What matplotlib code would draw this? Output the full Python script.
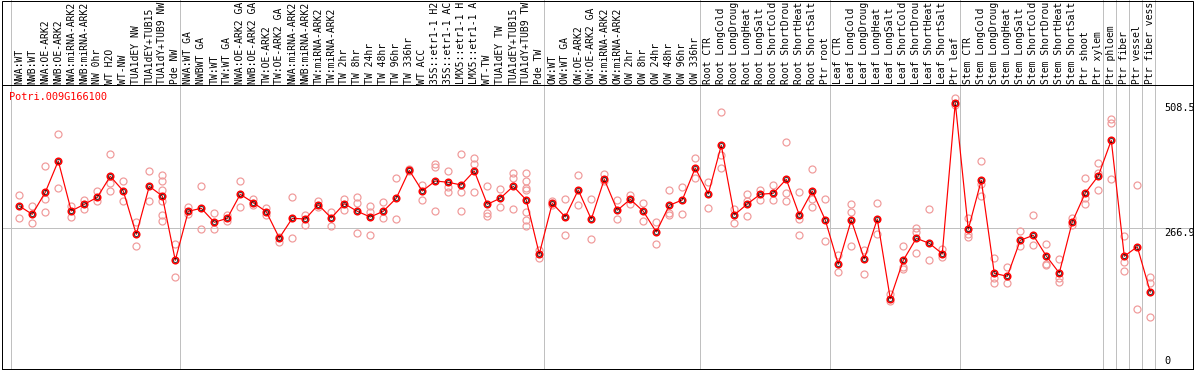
import matplotlib
matplotlib.use("Agg")
import matplotlib.pyplot as plt
from matplotlib.patches import Rectangle

# Sample names, left to right (as far as the header shows them)
samples = [
    "NWA:WT", "NWB:WT", "NWA:OE-ARK2", "NWB:OE-ARK2", "NWA:miRNA-ARK2", "NWB:miRNA-ARK2",
    "NW 0hr", "WT H2O", "WT-NW", "TUA1dEY NW", "TUA1dEY+TUB15", "TUA1dY+TUB9 NW", "Pde NW",
    "NWA:WT GA", "NWBWT GA", "TW:WT", "TW:WT GA", "NWA:OE-ARK2 GA", "NWB:OE-ARK2 GA",
    "TW:OE-ARK2", "TW:OE-ARK2 GA", "NWA:miRNA-ARK2", "NWB:miRNA-ARK2", "TW:miRNA-ARK2",
    "TW:miRNA-ARK2", "TW 2hr", "TW 8hr", "TW 24hr", "TW 48hr", "TW 96hr", "TW 336hr", "WT ACC",
    "35S::etr1-1 H2", "35S::etr1-1 AC", "LMX5::etr1-1 H", "LMX5::etr1-1 A", "WT-TW",
    "TUA1dEY TW", "TUA1dEY+TUB15", "TUA1dY+TUB9 TW", "Pde TW",
    "OW:WT", "OW:WT GA", "OW:OE-ARK2", "OW:OE-ARK2 GA", "OW:miRNA-ARK2", "OW:miRNA-ARK2",
    "OW 2hr", "OW 8hr", "OW 24hr", "OW 48hr", "OW 96hr", "OW 336hr",
    "Root CTR", "Root LongCold", "Root LongDroug", "Root LongHeat", "Root LongSalt",
    "Root ShortCold", "Root ShortDrou", "Root ShortHeat", "Root ShortSalt", "Ptr root",
    "Leaf CTR", "Leaf LongCold", "Leaf LongDroug", "Leaf LongHeat", "Leaf LongSalt",
    "Leaf ShortCold", "Leaf ShortDrou", "Leaf ShortHeat", "Leaf ShortSalt", "Ptr leaf",
    "Stem CTR", "Stem LongCold", "Stem LongDroug", "Stem LongHeat", "Stem LongSalt",
    "Stem ShortCold", "Stem ShortDrou", "Stem ShortHeat", "Stem ShortSalt", "Ptr shoot",
    "Ptr xylem", "Ptr phloem", "Ptr fiber", "Ptr vessel", "Ptr fiber vess",
]

# mean expression per sample
means = [
    309.3, 293.3, 335.7, 396.1, 299.7, 312.6, 326.1, 366.6, 338.2, 254.7, 347.3, 328.6, 204.6,
    299.1, 304.9, 277.9, 285.6, 331.9, 315.7, 298.3, 247.6, 285.6, 284.2, 311.8, 286.2, 313.7,
    299.1, 288.1, 299.1, 324.2, 378.1, 338.2, 357.5, 355.0, 349.8, 376.8, 312.6, 324.2, 347.3,
    320.9, 216.7,
    314.5, 288.1, 340.2, 283.7, 360.8, 301.0, 322.2, 299.1, 259.2, 310.6, 320.9, 382.6,
    332.4, 426.4, 291.9, 313.2, 331.9, 333.8, 360.8, 291.9, 338.2, 282.3,
    196.9, 282.3, 207.1, 284.2, 130.5, 204.6, 247.0, 237.4, 217.3, 508.5,
    264.4, 358.9, 179.5, 173.7, 243.2, 252.8, 212.9, 180.1, 278.5, 334.4, 367.2,
    436.0, 212.3, 230.8, 143.5,
]

# individual replicates per sample
replicates = [
    [329.9, 286.2], [308.7, 277.1], [385.9, 322.2, 297.2], [447.6, 344.0], [309.3, 287.5],
    [321.4, 304.1], [338.8, 318.4], [409.0, 353.1, 337.6], [357.5, 318.4], [278.5, 231.6],
    [376.8, 318.9], [368.5, 356.9, 339.6, 319.5, 291.4, 279.8], [236.6, 171.8],
    [306.8, 293.3], [347.3, 264.4], [295.2, 265.5], [292.5, 281.0], [357.5, 306.8],
    [322.2, 310.6], [305.4, 292.5], [250.1, 240.5], [326.7, 247.0], [291.4, 273.2],
    [318.9, 308.0], [297.7, 271.3], [322.8, 301.6], [326.7, 314.5, 256.7],
    [309.9, 298.3, 252.8], [317.0, 286.7], [362.7, 283.7], [380.0, 376.0], [349.8, 320.3],
    [390.9, 384.5, 299.1], [376.8, 345.4, 336.9], [409.0, 336.9, 299.1],
    [401.3, 389.7, 336.9], [348.4, 295.2, 290.6], [341.5, 308.0], [372.9, 363.9, 303.5],
    [372.9, 356.9, 344.0, 340.2, 297.2, 282.9, 270.7], [224.5, 208.4],
    [319.5, 311.2], [322.2, 252.8], [369.1, 310.6], [322.2, 246.2], [370.4, 358.0],
    [320.3, 283.7], [331.1, 313.2], [314.5, 279.8], [277.9, 235.5], [340.2, 296.4, 291.4],
    [345.4, 293.3], [401.3, 362.7],
    [355.6, 304.9], [490.0, 407.1, 382.0], [304.1, 275.9], [332.4, 319.5, 289.4],
    [340.7, 321.4], [349.8, 320.3], [432.1, 333.8, 318.9], [336.3, 284.8, 252.8],
    [380.6, 323.4, 308.0], [322.8, 241.2],
    [215.4, 182.0], [312.6, 297.2, 232.2], [224.5, 178.2], [314.5, 254.7], [139.6, 125.5],
    [232.2, 191.7, 188.4], [267.5, 259.7, 218.1], [302.9, 205.2], [227.0, 210.4],
    [517.0, 504.1],
    [286.2, 255.9, 250.1], [395.5, 351.1, 328.0], [208.4, 171.0, 160.2], [191.7, 160.2],
    [261.1, 232.7], [291.4, 234.7], [235.5, 198.0, 195.0], [206.5, 169.9, 163.3],
    [285.6, 272.7], [362.7, 325.3, 312.6], [391.6, 372.4, 340.2],
    [477.6, 468.8, 360.8], [251.5, 201.9, 184.5], [349.2, 110.1], [173.0, 160.2, 94.7],
]

# column index where each tissue group starts / ends
group_edges = [0, 13, 41, 53, 63, 73, 84, 85, 86, 87, 88]

gene = "Potri.009G166100"
ref_value = 266.9
max_value = 508.5

W, H = 1194, 370
mono = "DejaVu Sans Mono"
red = "#ff0000"
pink = "#f09a9a"
grey = "#c0c0c0"
px = 0.72  # one pixel in points
fs = 7.0

fig = plt.figure(figsize=(W / 100, H / 100), dpi=100)
ax = fig.add_axes([2 / W, 1 / H, 1191 / W, 284 / H])
ax.set_xlim((2 - 10.7) / 13, (1193 - 10.7) / 13)
ax.set_ylim(-5.0, 542.6)
ax.set_xticks([])
ax.set_yticks([])
for sp in ax.spines.values():
    sp.set_color("black")
    sp.set_linewidth(px)

# frame round the header too
fig.add_artist(Rectangle((2 / W, 1 / H), 1191 / W, 368.5 / H, transform=fig.transFigure,
                         fill=False, edgecolor="black", linewidth=px))

for k in group_edges:
    ax.axvline(k, ymin=0, ymax=1 + 85 / 284, color=grey, lw=px, clip_on=False, zorder=1)
ax.axhline(ref_value, color=grey, lw=px, zorder=1)

off = 0.66
xs = [i + off for i in range(len(samples))]

for x, reps in zip(xs, replicates):
    ax.plot([x] * len(reps), reps, linestyle="none", marker="o", ms=7 * px,
            mfc="none", mec=pink, mew=1.2 * px, zorder=2)

ax.plot(xs, means, color=red, lw=1.2 * px, zorder=3)
ax.plot(xs, means, linestyle="none", marker="o", ms=6.5 * px, mfc="none",
        mec=red, mew=1.6 * px, zorder=4)
ax.plot(xs, means, linestyle="none", marker="o", ms=4 * px, mfc="none",
        mec="black", mew=0.7 * px, zorder=5)

# sample labels in the header
for x, name in zip(xs, samples):
    ax.annotate(name, xy=(x, 1.0), xycoords=("data", "axes fraction"),
                xytext=(0, 0.8), textcoords="offset points", rotation=90,
                ha="center", va="bottom", fontsize=fs, family=mono, color="black",
                annotation_clip=False)

ax.text(0.0061, 1 - 12 / 284, gene, transform=ax.transAxes, color=red,
        fontsize=7.4, family=mono, ha="left", va="center")

yt = ax.get_yaxis_transform()
ax.text(0.9757, max_value, f"{max_value:.1f}", transform=yt, fontsize=7.4, family=mono,
        ha="left", va="top")
ax.text(0.9757, ref_value, f"{ref_value:.1f}", transform=yt, fontsize=7.4, family=mono,
        ha="left", va="top")
ax.text(0.9757, 0, "0", transform=yt, fontsize=7.4, family=mono, ha="left", va="bottom")

fig.savefig("out.png", dpi=100)
